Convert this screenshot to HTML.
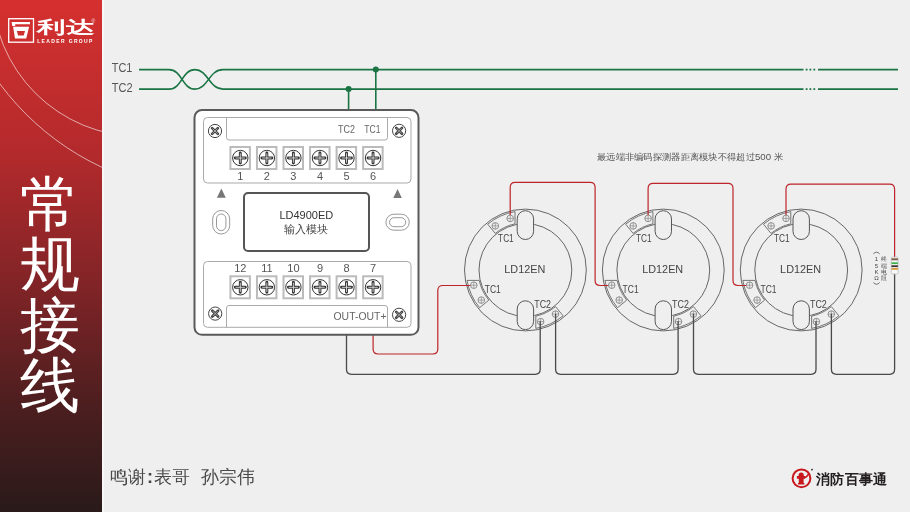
<!DOCTYPE html>
<html><head><meta charset="utf-8">
<style>
html,body{margin:0;padding:0;width:910px;height:512px;overflow:hidden;background:#efefef;font-family:"Liberation Sans",sans-serif;}
#side{position:absolute;left:0;top:0;width:102px;height:512px;background:linear-gradient(180deg,#d5302f 0%,#b32a2c 30%,#822427 55%,#4b1e1f 80%,#2a1a1a 100%);overflow:hidden}
#strip{position:absolute;left:102px;top:0;width:1.5px;height:512px;background:#f7f7f7}
#vt{position:absolute;left:18.2px;top:175px;width:64px;color:#fff;font-size:59.6px;line-height:60.4px;text-align:center;font-weight:300}
svg{position:absolute;left:0;top:0;will-change:transform}
.t{will-change:transform}
#vt{will-change:transform}
text{font-family:"Liberation Sans",sans-serif}
.t{position:absolute;white-space:nowrap}
</style></head><body>
<div id="side">
<svg width="102" height="512">
<circle cx="139.7" cy="-11.1" r="147.5" fill="none" stroke="#fff" stroke-width="1" opacity="0.6"/>
<circle cx="215.7" cy="-75.9" r="268.5" fill="none" stroke="#fff" stroke-width="1" opacity="0.6"/>
<rect x="8.7" y="18.7" width="24.8" height="23.5" fill="none" stroke="#fff" stroke-width="1.3"/>
<path d="M11.6,22.1H30V24.3H15.2V25.9H12.2Z" fill="#fff"/>
<path d="M13.1,26.8H29.1L26.25,38.4H15ZM16.9,30.9L18.1,35.6H23.75L25,30.9Z" fill="#fff" fill-rule="evenodd"/>
<text x="37" y="32.8" font-size="17" font-weight="900" fill="#fff" transform="translate(37,0) scale(1.0,1) translate(-37,0)" textLength="57" lengthAdjust="spacingAndGlyphs">利达</text>
<text x="37.2" y="42.5" font-size="5" font-weight="bold" fill="#fff" textLength="55.2" lengthAdjust="spacing">LEADER GROUP</text>
<text x="91.5" y="23" font-size="5" fill="#fff" opacity="0.8">®</text>
</svg>
<div id="vt">常<br>规<br>接<br>线</div>
</div>
<div id="strip"></div>
<svg id="main" width="910" height="512">
<defs>
<g id="blk">
<path d="M-10.4,-58.4A59.3,59.3 0 0 0 -37.7,-45.8L-30.15,-36.6A47.4,47.4 0 0 1 -10.4,-46.2Z" fill="#efefef" stroke="#666" stroke-width="0.9"/>
<circle cx="-30.10" cy="-44.10" r="3.3" fill="none" stroke="#777" stroke-width="0.8"/><path d="M-33.40,-44.10H-26.80M-30.10,-47.40V-40.80" stroke="#888" stroke-width="0.7"/>
<circle cx="-15.20" cy="-51.60" r="3.3" fill="none" stroke="#777" stroke-width="0.8"/><path d="M-18.50,-51.60H-11.90M-15.20,-54.90V-48.30" stroke="#888" stroke-width="0.7"/>
</g>
<g id="det">
<circle r="60.9" fill="none" stroke="#666" stroke-width="1"/>
<circle r="46.4" fill="none" stroke="#666" stroke-width="1"/>
<rect x="-8.2" y="-59.3" width="16.4" height="28.8" rx="8.2" fill="#efefef" stroke="#555" stroke-width="1"/>
<rect x="-8.2" y="30.8" width="16.4" height="28.8" rx="8.2" fill="#efefef" stroke="#555" stroke-width="1"/>
<use href="#blk"/>
<use href="#blk" transform="rotate(-90)"/>
<use href="#blk" transform="rotate(180)"/>
<text x="-21.1" y="3.3" font-size="11" fill="#444" textLength="41" lengthAdjust="spacingAndGlyphs">LD12EN</text>
<text x="-27.3" y="-28.2" font-size="10" fill="#444" textLength="15.6" lengthAdjust="spacingAndGlyphs">TC1</text>
<text x="-40.7" y="22.9" font-size="10" fill="#444" textLength="16" lengthAdjust="spacingAndGlyphs">TC1</text>
<text x="8.8" y="37.5" font-size="10" fill="#444" textLength="16.8" lengthAdjust="spacingAndGlyphs">TC2</text>
</g>
</defs>
<text x="111.8" y="72.1" font-size="12" fill="#555" textLength="20.6" lengthAdjust="spacingAndGlyphs">TC1</text>
<text x="111.8" y="91.5" font-size="12" fill="#555" textLength="20.8" lengthAdjust="spacingAndGlyphs">TC2</text>
<use href="#det" transform="translate(525.4,270)"/><use href="#det" transform="translate(663.3,270)"/><use href="#det" transform="translate(801.2,270)"/>
<path d="M139,69.6H169C182,69.6 182,89.1 195,89.1C208,89.1 209,69.6 223,69.6H803.5M818,69.6H898" fill="none" stroke="#1a7443" stroke-width="1.6"/>
<rect x="805.70" y="68.69999999999999" width="1.8" height="1.8" fill="#1a7443"/>
<rect x="809.50" y="68.69999999999999" width="1.8" height="1.8" fill="#1a7443"/>
<rect x="813.40" y="68.69999999999999" width="1.8" height="1.8" fill="#1a7443"/>
<path d="M139,89.1H169C182,89.1 182,69.6 195,69.6C208,69.6 209,89.1 223,89.1H803.5M818,89.1H898" fill="none" stroke="#1a7443" stroke-width="1.6"/>
<rect x="805.70" y="88.19999999999999" width="1.8" height="1.8" fill="#1a7443"/>
<rect x="809.50" y="88.19999999999999" width="1.8" height="1.8" fill="#1a7443"/>
<rect x="813.40" y="88.19999999999999" width="1.8" height="1.8" fill="#1a7443"/>
<path d="M375.8,69.6V110M348.6,89.1V110" stroke="#1a7443" stroke-width="1.6"/>
<circle cx="375.8" cy="69.6" r="3" fill="#1a7443"/><circle cx="348.6" cy="89.1" r="3" fill="#1a7443"/>
<path d="M373.10,334.00L373.10,349.00Q373.10,354.00 378.10,354.00L432.80,354.00Q437.80,354.00 437.80,349.00L437.80,290.50Q437.80,285.50 442.80,285.50L470.30,285.50" fill="none" stroke="#bd242b" stroke-width="1.2"/>
<path d="M510.20,215.10L510.20,187.40Q510.20,182.40 515.20,182.40L590.10,182.40Q595.10,182.40 595.10,187.40L595.10,280.50Q595.10,285.50 600.10,285.50L608.20,285.50" fill="none" stroke="#bd242b" stroke-width="1.2"/>
<path d="M648.10,215.10L648.10,188.40Q648.10,183.40 653.10,183.40L728.00,183.40Q733.00,183.40 733.00,188.40L733.00,280.50Q733.00,285.50 738.00,285.50L746.10,285.50" fill="none" stroke="#bd242b" stroke-width="1.2"/>
<path d="M786.00,215.10L786.00,189.20Q786.00,184.20 791.00,184.20L889.60,184.20Q894.60,184.20 894.60,189.20L894.60,257.00" fill="none" stroke="#bd242b" stroke-width="1.2"/>
<path d="M346.50,334.00L346.50,369.30Q346.50,374.30 351.50,374.30L535.20,374.30Q540.20,374.30 540.20,369.30L540.20,321.30" fill="none" stroke="#4a4a4a" stroke-width="1.3"/>
<path d="M555.60,313.70L555.60,369.30Q555.60,374.30 560.60,374.30L673.10,374.30Q678.10,374.30 678.10,369.30L678.10,321.30" fill="none" stroke="#4a4a4a" stroke-width="1.3"/>
<path d="M693.50,313.70L693.50,369.30Q693.50,374.30 698.50,374.30L811.00,374.30Q816.00,374.30 816.00,369.30L816.00,321.30" fill="none" stroke="#4a4a4a" stroke-width="1.3"/>
<path d="M831.40,313.70L831.40,369.30Q831.40,374.30 836.40,374.30L889.60,374.30Q894.60,374.30 894.60,369.30L894.60,274.00" fill="none" stroke="#4a4a4a" stroke-width="1.3"/>
<rect x="194.5" y="110" width="224" height="224.8" rx="7.5" fill="#fff" stroke="#5a5a5a" stroke-width="2"/>
<rect x="203.5" y="117.5" width="207.5" height="65.5" rx="4" fill="#fff" stroke="#aaa" stroke-width="1"/>
<path d="M226.5,117.5V137.5a2.5,2.5 0 0 0 2.5,2.5H385a2.5,2.5 0 0 0 2.5,-2.5V117.5" fill="none" stroke="#aaa" stroke-width="1"/>
<text x="337.9" y="133.1" font-size="11" fill="#666" textLength="17" lengthAdjust="spacingAndGlyphs">TC2</text>
<text x="364.3" y="133.1" font-size="11" fill="#666" textLength="16.2" lengthAdjust="spacingAndGlyphs">TC1</text>
<circle cx="215.00" cy="131.00" r="6.6" fill="#fff" stroke="#444" stroke-width="1"/><path d="M212.10,128.10L217.90,133.90M217.90,128.10L212.10,133.90" stroke="#444" stroke-width="2.7" stroke-linecap="round"/><path d="M212.50,128.50L217.50,133.50M217.50,128.50L212.50,133.50" stroke="#bbb" stroke-width="0.8"/>
<circle cx="399.10" cy="130.80" r="6.6" fill="#fff" stroke="#444" stroke-width="1"/><path d="M396.20,127.90L402.00,133.70M402.00,127.90L396.20,133.70" stroke="#444" stroke-width="2.7" stroke-linecap="round"/><path d="M396.60,128.30L401.60,133.30M401.60,128.30L396.60,133.30" stroke="#bbb" stroke-width="0.8"/>
<rect x="230.40" y="147" width="19.5" height="22" fill="#fff" stroke="#bbb" stroke-width="2"/>
<circle cx="240.30" cy="158.00" r="7.7" fill="#fff" stroke="#333" stroke-width="1"/><path d="M235.30,158.00H245.30M240.30,153.00V163.00" stroke="#333" stroke-width="2.9" stroke-linecap="round"/><path d="M235.60,158.00H245.00M240.30,153.30V162.70" stroke="#ddd" stroke-width="0.9"/>
<text x="240.30" y="180" font-size="11" fill="#555" text-anchor="middle">1</text>
<rect x="256.95" y="147" width="19.5" height="22" fill="#fff" stroke="#bbb" stroke-width="2"/>
<circle cx="266.85" cy="158.00" r="7.7" fill="#fff" stroke="#333" stroke-width="1"/><path d="M261.85,158.00H271.85M266.85,153.00V163.00" stroke="#333" stroke-width="2.9" stroke-linecap="round"/><path d="M262.15,158.00H271.55M266.85,153.30V162.70" stroke="#ddd" stroke-width="0.9"/>
<text x="266.85" y="180" font-size="11" fill="#555" text-anchor="middle">2</text>
<rect x="283.50" y="147" width="19.5" height="22" fill="#fff" stroke="#bbb" stroke-width="2"/>
<circle cx="293.40" cy="158.00" r="7.7" fill="#fff" stroke="#333" stroke-width="1"/><path d="M288.40,158.00H298.40M293.40,153.00V163.00" stroke="#333" stroke-width="2.9" stroke-linecap="round"/><path d="M288.70,158.00H298.10M293.40,153.30V162.70" stroke="#ddd" stroke-width="0.9"/>
<text x="293.40" y="180" font-size="11" fill="#555" text-anchor="middle">3</text>
<rect x="310.05" y="147" width="19.5" height="22" fill="#fff" stroke="#bbb" stroke-width="2"/>
<circle cx="319.95" cy="158.00" r="7.7" fill="#fff" stroke="#333" stroke-width="1"/><path d="M314.95,158.00H324.95M319.95,153.00V163.00" stroke="#333" stroke-width="2.9" stroke-linecap="round"/><path d="M315.25,158.00H324.65M319.95,153.30V162.70" stroke="#ddd" stroke-width="0.9"/>
<text x="319.95" y="180" font-size="11" fill="#555" text-anchor="middle">4</text>
<rect x="336.60" y="147" width="19.5" height="22" fill="#fff" stroke="#bbb" stroke-width="2"/>
<circle cx="346.50" cy="158.00" r="7.7" fill="#fff" stroke="#333" stroke-width="1"/><path d="M341.50,158.00H351.50M346.50,153.00V163.00" stroke="#333" stroke-width="2.9" stroke-linecap="round"/><path d="M341.80,158.00H351.20M346.50,153.30V162.70" stroke="#ddd" stroke-width="0.9"/>
<text x="346.50" y="180" font-size="11" fill="#555" text-anchor="middle">5</text>
<rect x="363.15" y="147" width="19.5" height="22" fill="#fff" stroke="#bbb" stroke-width="2"/>
<circle cx="373.05" cy="158.00" r="7.7" fill="#fff" stroke="#333" stroke-width="1"/><path d="M368.05,158.00H378.05M373.05,153.00V163.00" stroke="#333" stroke-width="2.9" stroke-linecap="round"/><path d="M368.35,158.00H377.75M373.05,153.30V162.70" stroke="#ddd" stroke-width="0.9"/>
<text x="373.05" y="180" font-size="11" fill="#555" text-anchor="middle">6</text>
<path d="M216.9,197.7L221.35,188.6L225.8,197.7Z" fill="#777"/>
<path d="M393.3,197.9L397.55,189L401.8,197.9Z" fill="#777"/>
<rect x="212.7" y="210.5" width="17" height="23.5" rx="8.5" fill="none" stroke="#999" stroke-width="1"/>
<rect x="216.5" y="214" width="9.4" height="16.6" rx="4.7" fill="none" stroke="#999" stroke-width="1"/>
<rect x="385.9" y="214.2" width="23.4" height="16" rx="8" fill="none" stroke="#999" stroke-width="1"/>
<rect x="389.5" y="217.7" width="16.2" height="9" rx="4.5" fill="none" stroke="#999" stroke-width="1"/>
<rect x="244" y="193" width="125" height="58" rx="4" fill="#fff" stroke="#555" stroke-width="2"/>
<text x="306.3" y="219" font-size="11" fill="#333" text-anchor="middle">LD4900ED</text>
<text x="306.3" y="232.5" font-size="11" fill="#444" text-anchor="middle">输入模块</text>
<rect x="203.5" y="261.5" width="207.5" height="65.8" rx="4" fill="#fff" stroke="#aaa" stroke-width="1"/>
<path d="M226.5,327.3V308a2.5,2.5 0 0 1 2.5,-2.5H385a2.5,2.5 0 0 1 2.5,2.5V327.3" fill="none" stroke="#aaa" stroke-width="1"/>
<text x="333.5" y="320.1" font-size="11" fill="#666" textLength="53" lengthAdjust="spacingAndGlyphs">OUT-OUT+</text>
<circle cx="215.20" cy="313.60" r="6.6" fill="#fff" stroke="#444" stroke-width="1"/><path d="M212.30,310.70L218.10,316.50M218.10,310.70L212.30,316.50" stroke="#444" stroke-width="2.7" stroke-linecap="round"/><path d="M212.70,311.10L217.70,316.10M217.70,311.10L212.70,316.10" stroke="#bbb" stroke-width="0.8"/>
<circle cx="399.10" cy="314.80" r="6.6" fill="#fff" stroke="#444" stroke-width="1"/><path d="M396.20,311.90L402.00,317.70M402.00,311.90L396.20,317.70" stroke="#444" stroke-width="2.7" stroke-linecap="round"/><path d="M396.60,312.30L401.60,317.30M401.60,312.30L396.60,317.30" stroke="#bbb" stroke-width="0.8"/>
<rect x="230.40" y="276.3" width="19.5" height="22" fill="#fff" stroke="#bbb" stroke-width="2"/>
<circle cx="240.30" cy="287.30" r="7.7" fill="#fff" stroke="#333" stroke-width="1"/><path d="M235.30,287.30H245.30M240.30,282.30V292.30" stroke="#333" stroke-width="2.9" stroke-linecap="round"/><path d="M235.60,287.30H245.00M240.30,282.60V292.00" stroke="#ddd" stroke-width="0.9"/>
<text x="240.30" y="271.8" font-size="11" fill="#555" text-anchor="middle">12</text>
<rect x="256.95" y="276.3" width="19.5" height="22" fill="#fff" stroke="#bbb" stroke-width="2"/>
<circle cx="266.85" cy="287.30" r="7.7" fill="#fff" stroke="#333" stroke-width="1"/><path d="M261.85,287.30H271.85M266.85,282.30V292.30" stroke="#333" stroke-width="2.9" stroke-linecap="round"/><path d="M262.15,287.30H271.55M266.85,282.60V292.00" stroke="#ddd" stroke-width="0.9"/>
<text x="266.85" y="271.8" font-size="11" fill="#555" text-anchor="middle">11</text>
<rect x="283.50" y="276.3" width="19.5" height="22" fill="#fff" stroke="#bbb" stroke-width="2"/>
<circle cx="293.40" cy="287.30" r="7.7" fill="#fff" stroke="#333" stroke-width="1"/><path d="M288.40,287.30H298.40M293.40,282.30V292.30" stroke="#333" stroke-width="2.9" stroke-linecap="round"/><path d="M288.70,287.30H298.10M293.40,282.60V292.00" stroke="#ddd" stroke-width="0.9"/>
<text x="293.40" y="271.8" font-size="11" fill="#555" text-anchor="middle">10</text>
<rect x="310.05" y="276.3" width="19.5" height="22" fill="#fff" stroke="#bbb" stroke-width="2"/>
<circle cx="319.95" cy="287.30" r="7.7" fill="#fff" stroke="#333" stroke-width="1"/><path d="M314.95,287.30H324.95M319.95,282.30V292.30" stroke="#333" stroke-width="2.9" stroke-linecap="round"/><path d="M315.25,287.30H324.65M319.95,282.60V292.00" stroke="#ddd" stroke-width="0.9"/>
<text x="319.95" y="271.8" font-size="11" fill="#555" text-anchor="middle">9</text>
<rect x="336.60" y="276.3" width="19.5" height="22" fill="#fff" stroke="#bbb" stroke-width="2"/>
<circle cx="346.50" cy="287.30" r="7.7" fill="#fff" stroke="#333" stroke-width="1"/><path d="M341.50,287.30H351.50M346.50,282.30V292.30" stroke="#333" stroke-width="2.9" stroke-linecap="round"/><path d="M341.80,287.30H351.20M346.50,282.60V292.00" stroke="#ddd" stroke-width="0.9"/>
<text x="346.50" y="271.8" font-size="11" fill="#555" text-anchor="middle">8</text>
<rect x="363.15" y="276.3" width="19.5" height="22" fill="#fff" stroke="#bbb" stroke-width="2"/>
<circle cx="373.05" cy="287.30" r="7.7" fill="#fff" stroke="#333" stroke-width="1"/><path d="M368.05,287.30H378.05M373.05,282.30V292.30" stroke="#333" stroke-width="2.9" stroke-linecap="round"/><path d="M368.35,287.30H377.75M373.05,282.60V292.00" stroke="#ddd" stroke-width="0.9"/>
<text x="373.05" y="271.8" font-size="11" fill="#555" text-anchor="middle">7</text>
<rect x="891.3" y="257" width="6.8" height="17" rx="1.5" fill="#f8f8f8" stroke="#bbb" stroke-width="0.8"/>
<rect x="891.5" y="258.3" width="6.4" height="2" fill="#7d5f4e"/>
<rect x="891.5" y="262.3" width="6.4" height="1.8" fill="#3fb04b"/>
<rect x="891.5" y="265.3" width="6.4" height="1.8" fill="#3b3131"/>
<rect x="891.5" y="268" width="6.4" height="1.8" fill="#d89a3c"/>
<text x="597" y="160.3" font-size="9.4" fill="#555" textLength="186" lengthAdjust="spacingAndGlyphs">最远端非编码探测器距离模块不得超过500 米</text>
</svg>
<div class="t" style="left:109.5px;top:464.5px;font-size:18px;color:#4a4a4a;line-height:24px;font-weight:300">鸣谢</div>
<div class="t" style="left:147px;top:464.5px;font-size:18px;color:#444;line-height:24px;font-weight:bold">:</div>
<div class="t" style="left:154px;top:464.5px;font-size:18px;color:#4a4a4a;line-height:24px;font-weight:300">表哥</div>
<div class="t" style="left:201px;top:464.5px;font-size:18px;color:#4a4a4a;line-height:24px;font-weight:300">孙宗伟</div>
<div class="t" style="left:815.5px;top:468.8px;font-size:14.3px;font-weight:bold;color:#231f20;line-height:20px;letter-spacing:0.35px">消防百事通</div>
<svg width="910" height="512" style="pointer-events:none">
<circle cx="801.5" cy="478.3" r="8.9" fill="none" stroke="#c8161d" stroke-width="2"/>
<path d="M798.6,475.2a2.6,2.6 0 0 1 5.2,0V476H805V478.8H803.6V483H804.4V484.6H798V483H798.8V478.8H796.9V476H798.6Z" fill="#c8161d"/>
<path d="M803.6,477.6C806,477.6 807.5,476 808.6,473.8" fill="none" stroke="#c8161d" stroke-width="1.6"/>
<circle cx="812" cy="469.6" r="0.9" fill="#231f20"/>
</svg>
<svg width="910" height="512" style="pointer-events:none">
<g font-size="6.3" fill="#555" text-anchor="middle">
<text x="884" y="261.2">终</text><text x="884" y="267.6">端</text><text x="884" y="274">电</text><text x="884" y="280.4">阻</text>
</g>
<g font-size="6" fill="#444" text-anchor="middle">
<text x="876.5" y="261">1</text><text x="876.5" y="267.6">5</text><text x="876.5" y="274.2">K</text><text x="876.5" y="280.1">Ω</text>
</g>
<path d="M873.3,253.9Q876.5,250.5 879.7,253.9M873.3,282.5Q876.5,286 879.7,282.5" fill="none" stroke="#555" stroke-width="0.8"/>
</svg>
</body></html>
